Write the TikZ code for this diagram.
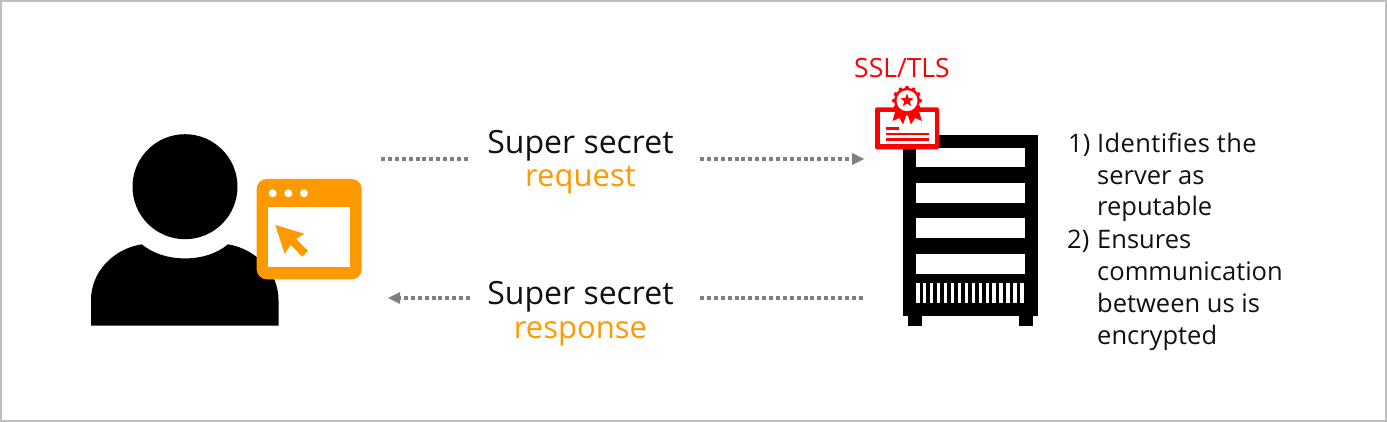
\documentclass[tikz,border=0pt]{standalone}
\usepackage{fontspec}
\usetikzlibrary{shapes.geometric}
\setmainfont{Open Sans}
\definecolor{orng}{HTML}{FF9900}
\definecolor{dots}{HTML}{7F7F7F}
\definecolor{ink}{HTML}{111111}
\definecolor{frame}{HTML}{BFBFBF}
\tikzset{
  blk/.style={fill=black,draw=none},
  wht/.style={fill=white,draw=none},
  org/.style={fill=orng,draw=none},
  rd/.style={fill=red,draw=none},
  lbl/.style={font=\fontsize{32}{36}\selectfont,text=ink,inner sep=0pt,anchor=base},
  lblo/.style={font=\fontsize{31}{36}\selectfont,text=orng,inner sep=0pt,anchor=base},
  sidetext/.style={font=\fontsize{25.5}{31.5}\selectfont,text=ink,inner sep=0pt,anchor=base west},
  dotline/.style={draw=dots,line width=4pt,dash pattern=on 4pt off 2.9pt},
  tip/.style={fill=dots,draw=none},
}
\begin{document}
\begin{tikzpicture}[x=1pt,y=-1pt]
\useasboundingbox (0,0) rectangle (1387,422);
\draw[draw=frame,line width=1.5pt] (0.8,0.8) rectangle (1386.2,421.2);
% person
\fill[blk] (185,186.7) circle[radius=52.5];
\fill[blk] (91,325.5) -- (91,300) .. controls (91,272) and (113,249) .. (141.7,244.3)
  .. controls (153,253.5) and (168,258.4) .. (185,258.4)
  .. controls (202,258.4) and (217,253.5) .. (228,244.3)
  .. controls (256,249) and (278.5,272) .. (278.5,300) -- (278.5,325.5) -- cycle;
% browser
\fill[org,rounded corners=10pt] (256.7,179) rectangle (361.7,279.3);
\fill[wht] (268.3,206.7) rectangle (350,267.3);
\foreach \x in {272.7,288.3,304}{\fill[wht] (\x,193.3) circle[radius=4];}
\fill[org] (275.3,225) -- (304.3,233.7) -- (296,239) -- (308,250.7) -- (302.3,256.7) -- (290.7,244.7) -- (284.7,254) -- cycle;
% server
\fill[blk] (903.3,135) rectangle (1038.3,316);
\fill[blk] (908.3,316) rectangle (921.7,326);
\fill[blk] (1019.3,316) rectangle (1032.7,326);
\foreach \y in {147.7,183,218.5,254}{\fill[wht] (916,\y) rectangle (1024.7,\y+19.6);}
\foreach \i in {0,...,15}{\fill[wht] ({916+\i*6.95},283.3) rectangle ({916+\i*6.95+3.5},303.3);}
% certificate
\fill[rd,rounded corners=1.5pt] (875,107.3) rectangle (939,149.3);
\fill[wht] (880,112.5) rectangle (934.5,144.5);
\fill[rd] (897,105) -- (892.5,121) -- (899.5,118) -- (903,124.5) -- (907,113) -- (911,124.5) -- (915,118) -- (922,121) -- (917,105) -- cycle;
\fill[rd] (907,100.7) circle[radius=13];
\foreach \a in {0,30,...,330}{\fill[rd] ({907+13*cos(\a)},{100.7+13*sin(\a)}) circle[radius=2];}
\fill[wht] (907,100.7) circle[radius=10.5];
\node[star,star points=5,star point ratio=2.4,fill=red,draw=none,minimum size=14pt,inner sep=0pt] (starmark) at (907,100.5) {};
\fill[rd] (885.5,127.5) rectangle (899,129.8);
\fill[rd] (885.5,133.1) rectangle (928.5,135.4);
\fill[rd] (885.5,138.5) rectangle (928.5,140.8);
% texts
\node[lbl] (a1) at (580.5,153.7) {Super secret};
\node[lblo] (a2) at (580.5,186.7) {request};
\node[lbl] (b1) at (580.5,304.7) {Super secret};
\node[lblo] (b2) at (580.5,338.5) {response};
\node[font=\fontsize{26.5}{30}\selectfont,text=red,inner sep=0pt,anchor=base] (ssl) at (902,77.2) {SSL/TLS};
\node[sidetext] (n1) at (1068,153) {1)};
\node[sidetext] (t1) at (1097,153) {\addfontfeature{LetterSpace=1.5}Identifies the};
\node[sidetext] (t2) at (1097,184.5) {server as};
\node[sidetext] (t3) at (1097,216) {reputable};
\node[sidetext] (n2) at (1067,248.5) {2)};
\node[sidetext] (t4) at (1097,248.5) {Ensures};
\node[sidetext] (t5) at (1097,280.5) {communication};
\node[sidetext] (t6) at (1097,312) {between us is};
\node[sidetext] (t7) at (1097,344) {encrypted};
% connectors
\coordinate (p1) at (381,159); \coordinate (p2) at (468,159);
\coordinate (p3) at (700,159); \coordinate (p4) at (852,159);
\coordinate (q1) at (470,298); \coordinate (q2) at (400,298);
\coordinate (q3) at (700,298); \coordinate (q4) at (864,298);
\draw[dotline] (p1) -- (p2);
\draw[dotline] (p3) -- (p4);
\fill[tip] (852,153) -- (864,159) -- (852,165) -- cycle;
\draw[dotline] (q1) -- (q2);
\fill[tip] (400,292) -- (388,298) -- (400,304) -- cycle;
\draw[dotline] (q3) -- (q4);
\end{tikzpicture}
\end{document}
